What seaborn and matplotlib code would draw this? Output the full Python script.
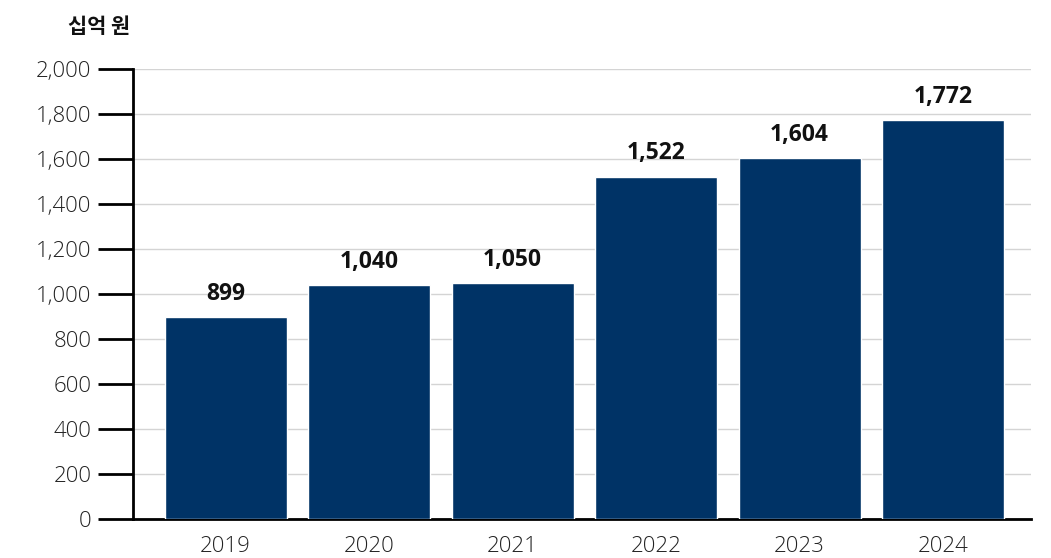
import matplotlib
matplotlib.use("Agg")
import matplotlib.pyplot as plt
import seaborn as sns
import pandas as pd

years = ["2019", "2020", "2021", "2022", "2023", "2024"]
values = [899, 1040, 1050, 1522, 1604, 1772]
y_ticks = [0, 200, 400, 600, 800, 1000, 1200, 1400, 1600, 1800, 2000]
unit_label = "십억 원"

sns.set_theme(style="white")
plt.rcParams["font.family"] = ["Open Sans", "Noto Sans CJK KR", "DejaVu Sans"]

df = pd.DataFrame({"year": years, "value": values})

fig = plt.figure(figsize=(10.51, 5.58), dpi=100)
ax = fig.add_axes([0.1265, 0.0699, 0.8545, 0.8064])

sns.barplot(data=df, x="year", y="value", color="#003366", saturation=1,
            width=0.85, ax=ax, zorder=3)

ax.set_xlim(-0.646, 5.613)
ax.set_ylim(0, 2000)
ax.set_yticks(y_ticks)
ax.set_yticklabels([f"{v:,}" for v in y_ticks], fontsize=16,
                   fontweight="light", color="#222222")
ax.set_xticklabels(years, fontsize=16, fontweight="light", color="#222222")
ax.set_xlabel("")
ax.set_ylabel("")

ax.yaxis.grid(True, color="#d4d4d4", linewidth=1, zorder=0)
ax.set_axisbelow(True)
for s in ["top", "right"]:
    ax.spines[s].set_visible(False)
for s in ["left", "bottom"]:
    ax.spines[s].set_color("black")
    ax.spines[s].set_linewidth(2)

ax.tick_params(axis="y", which="major", left=True, length=25, width=2,
               color="black", pad=5)
ax.tick_params(axis="x", which="major", bottom=False, pad=6)

for container in ax.containers:
    ax.bar_label(container, labels=[f"{v:,}" for v in values], padding=8,
                 fontsize=16.5, fontweight="bold", color="#111111")

fig.text(0.065, 0.953, unit_label, fontsize=15, fontweight="bold",
         color="#111111", ha="left", va="center",
         family=["Noto Sans CJK KR", "DejaVu Sans"])

fig.savefig("out.png", dpi=100)
